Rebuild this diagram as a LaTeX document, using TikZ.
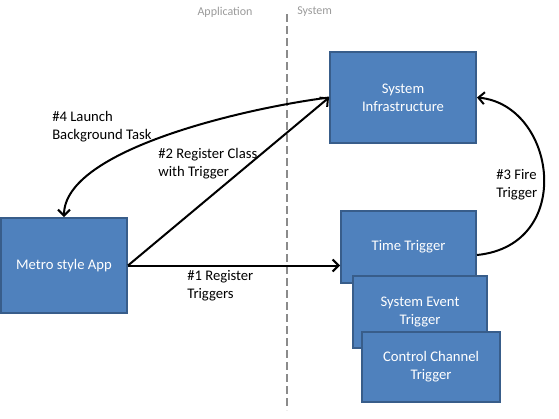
\documentclass[tikz,border=0pt]{standalone}
\usepackage{fontspec}
\setmainfont{Carlito}
\usetikzlibrary{arrows.meta,calc}
\definecolor{boxfill}{HTML}{4F81BD}
\definecolor{boxline}{HTML}{385D8A}
\definecolor{hdr}{HTML}{9A9A9A}
\begin{document}
\begin{tikzpicture}[x=0.75pt,y=-0.75pt,
  box/.style={draw=boxline,fill=boxfill,line width=1.5pt,text=white,font=\fontsize{11}{13.5}\selectfont,align=center,inner sep=0pt},
  lbl/.style={font=\fontsize{11}{13.5}\selectfont,align=left,inner sep=0pt,anchor=west},
  hdrlbl/.style={font=\fontsize{9}{10}\selectfont,text=hdr,inner sep=0pt},
  conn/.style={line width=1.5pt,-{Straight Barb[length=4.5pt,width=9pt,line width=1.5pt]}}]
\useasboundingbox (0,0) rectangle (559,418);
% header
\node[hdrlbl] (app) at (225,12) {Application};
\node[hdrlbl,anchor=west] (sys) at (297,12) {System};
\coordinate (dtop) at (287,14);
\coordinate (dbot) at (287,410);
\draw[hdr!90!black,line width=1.2pt,dash pattern=on 6pt off 3pt] (dtop) -- (dbot);
% boxes
\node[box,minimum width=109.5pt,minimum height=68.25pt] (infra) at (403,97.5) {\raisebox{-3pt}{\shortstack{System\\[1pt]Infrastructure}}};
\node[box,minimum width=94.5pt,minimum height=71.25pt] (metro) at (64,265.5) {Metro style App};
\node[box,minimum width=101.25pt,minimum height=54pt] (time) at (408.5,247) {Time Trigger};
\node[box,minimum width=100.5pt,minimum height=54pt] (sev) at (420,312) {System Event\\Trigger};
\node[box,minimum width=103.5pt,minimum height=52.5pt] (ctrl) at (431,367) {Control Channel\\Trigger};
% connectors
\draw[conn] (metro.east) -- (metro.east -| time.west);
\draw[conn] (metro.east) -- (infra.west);
\draw[conn] (infra.west) .. controls ($(infra.west)+(-80,10)$) and ($(metro.north)+(0,-68)$) .. (metro.north);
\draw[conn] ($(time.east)+(0,8)$) .. controls ($(time.east)+(99,-2)$) and ($(infra.east)+(79,7.5)$) .. (infra.east);
% labels
\node[lbl] (l1) at (187,285.5) {\#1 Register\\Triggers};
\node[lbl] (l2) at (158,163.5) {\#2 Register Class\\with Trigger};
\node[lbl] (l4) at (52,127) {\#4 Launch\\Background Task};
\node[lbl] (l3) at (496,185) {\#3 Fire\\Trigger};
\end{tikzpicture}
\end{document}
